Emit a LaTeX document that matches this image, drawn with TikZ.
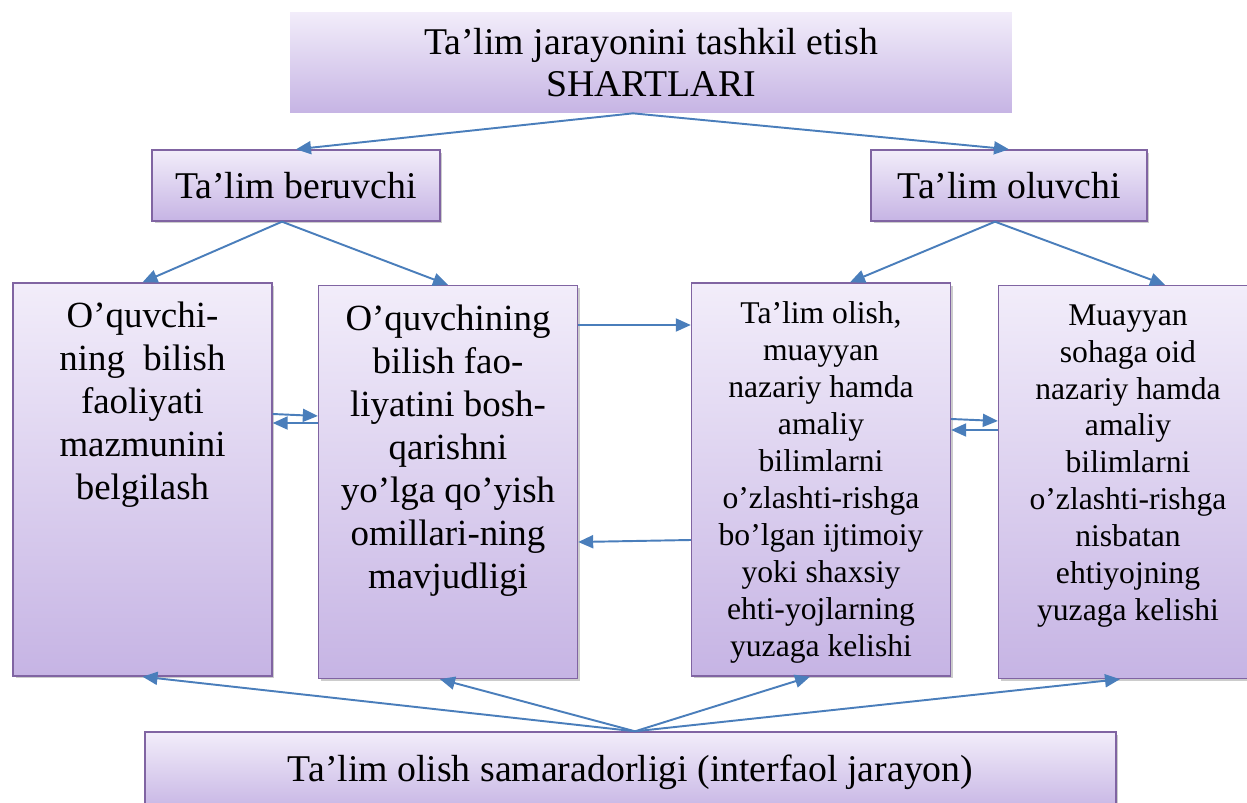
\documentclass[tikz,border=0pt]{standalone}
\usepackage{fontspec}
\setmainfont{Liberation Serif}
\usepackage{tikz}
\usetikzlibrary{arrows.meta, positioning, calc, shadows}
\definecolor{myblue}{RGB}{74,126,187}
\definecolor{myframe}{RGB}{128,100,162}
\definecolor{hdrtop}{RGB}{242,237,250}
\definecolor{hdrbot}{RGB}{198,180,228}
\tikzset{
  titlebox/.style={rectangle, top color=hdrtop, bottom color=hdrbot,
    minimum width=14.44cm, minimum height=2.02cm, align=center,
    font=\fontsize{21.5}{24}\selectfont},
  rolebox/.style={rectangle, draw=myframe, top color=hdrtop, bottom color=hdrbot,
    minimum height=1.42cm, align=center, font=\fontsize{21.5}{25}\selectfont,
    line width=0.8pt, drop shadow={shadow xshift=0.05cm, shadow yshift=-0.05cm, fill=black, opacity=0.2}},
  tallbox/.style={rectangle, draw=myframe, top color=hdrtop, bottom color=hdrbot,
    inner sep=0pt, line width=0.8pt, font=\fontsize{21}{24.5}\selectfont,
    drop shadow={shadow xshift=0.05cm, shadow yshift=-0.05cm, fill=black, opacity=0.2},
    execute at begin node={\begin{minipage}[t][7.86cm][t]{5.18cm}\centering\vspace*{0.38cm}},
    execute at end node={\end{minipage}}},
  tightbox/.style={tallbox, font=\fontsize{18}{21}\selectfont},
  arrow/.style={-{Triangle[length=0.3cm, width=0.26cm]}, line width=1.1pt, color=myblue}
}
\begin{document}
\begin{tikzpicture}[x=0.02cm, y=-0.02cm]
  \useasboundingbox (0,0) rectangle (1247,803);

  \node[titlebox] (title) at (651,62.5) {Ta’lim jarayonini tashkil etish\\SHARTLARI};
  \node[rolebox, minimum width=5.76cm] (teacher) at (296,185.5) {Ta’lim beruvchi};
  \node[rolebox, minimum width=5.52cm] (learner) at (1009,185.5) {Ta’lim oluvchi};

  \node[tallbox] (content) at (142.5,479.5) {O’quvchi-\\ning\ \ bilish\\faoliyati\\mazmunini\\belgilash};
  \node[tallbox] (manage) at (448,482) {O’quvchining\\bilish fao-\\liyatini bosh-\\qarishni\\yo’lga qo’yish\\omillari-ning\\mavjudligi};
  \node[tightbox] (need) at (821,479.5) {Ta’lim olish,\\muayyan\\nazariy hamda\\amaliy\\bilimlarni\\o’zlashti-rishga\\bo’lgan ijtimoiy\\yoki shaxsiy\\ehti-yojlarning\\yuzaga kelishi};
  \node[tightbox] (demand) at (1128,482) {Muayyan\\sohaga oid\\nazariy hamda\\amaliy\\bilimlarni\\o’zlashti-rishga\\nisbatan\\ehtiyojning\\yuzaga kelishi};

  \node[rolebox, minimum width=19.42cm, minimum height=1.6cm] (result) at (630.5,772) {Ta’lim olish samaradorligi (interfaol jarayon)};

  \draw[arrow] ([xshift=-0.36cm]title.south) -- (teacher.north);
  \draw[arrow] ([xshift=-0.36cm]title.south) -- (learner.north);
  \draw[arrow] ([xshift=-0.28cm]teacher.south) -- (content.north);
  \draw[arrow] ([xshift=-0.28cm]teacher.south) -- (manage.north);
  \draw[arrow] ([xshift=-0.28cm]learner.south) -- ([xshift=0.58cm]need.north);
  \draw[arrow] ([xshift=-0.28cm]learner.south) -- ([xshift=0.74cm]demand.north);

  \draw[arrow] (content.east |- 0,414) -- (manage.west |- 0,416);
  \draw[arrow] (manage.west |- 0,423) -- (content.east |- 0,423);
  \draw[arrow] (manage.east |- 0,325) -- (need.west |- 0,325);
  \draw[arrow] (need.west |- 0,540) -- (manage.east |- 0,542);
  \draw[arrow] (need.east |- 0,419) -- (demand.west |- 0,421);
  \draw[arrow] (demand.west |- 0,430) -- (need.east |- 0,430);

  \draw[arrow] ([xshift=0.09cm]result.north) -- (content.south);
  \draw[arrow] ([xshift=0.09cm]result.north) -- ([xshift=-0.16cm]manage.south);
  \draw[arrow] ([xshift=0.09cm]result.north) -- ([xshift=-0.22cm]need.south);
  \draw[arrow] ([xshift=0.09cm]result.north) -- ([xshift=-0.16cm]demand.south);
\end{tikzpicture}
\end{document}
